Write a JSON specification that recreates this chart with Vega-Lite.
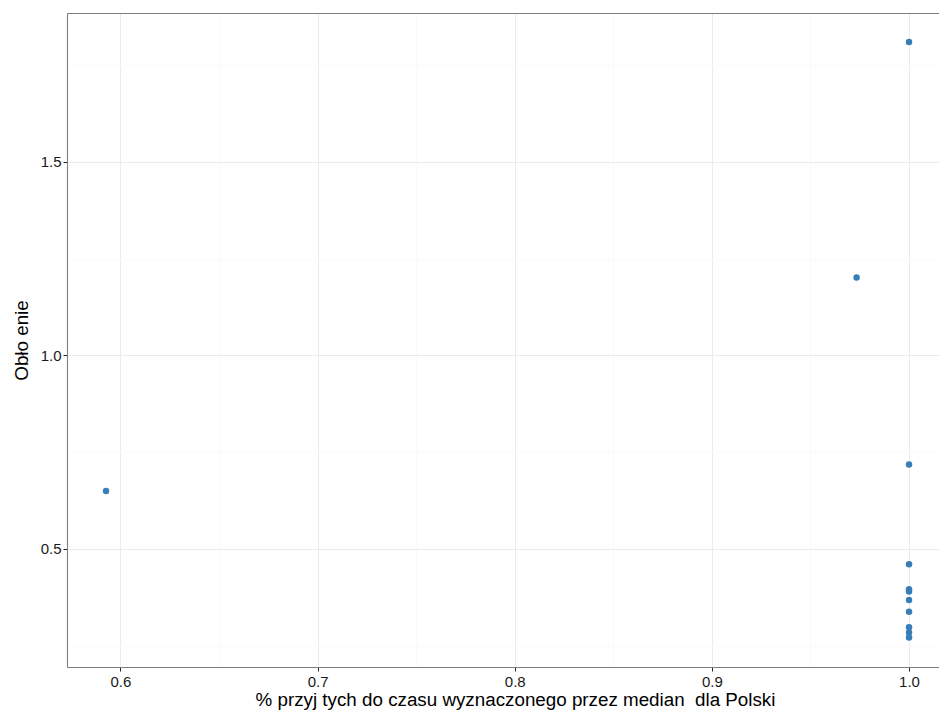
{
  "$schema": "https://vega.github.io/schema/vega-lite/v6.json",
  "width": 872,
  "height": 654,
  "autosize": {"type": "none"},
  "padding": {"left": 67, "top": 13, "right": 0, "bottom": 48},
  "background": "white",
  "config": {
    "view": {"stroke": null},
    "font": "Liberation Sans",
    "axis": {
      "labelFont": "Liberation Sans",
      "titleFont": "Liberation Sans",
      "labelFontSize": 15,
      "labelColor": "#1a1a1a",
      "titleFontSize": 18.8,
      "titleFontWeight": "normal",
      "titleColor": "#000000",
      "domainColor": "#7f7f7f",
      "domainWidth": 1.1,
      "tickColor": "#222222",
      "tickSize": 4,
      "gridWidth": 1
    }
  },
  "data": {
    "values": [
      {"x": 0.5927, "y": 0.650},
      {"x": 0.9734, "y": 1.2016},
      {"x": 1.0, "y": 1.810},
      {"x": 1.0, "y": 0.718},
      {"x": 1.0, "y": 0.4605},
      {"x": 1.0, "y": 0.396},
      {"x": 1.0, "y": 0.390},
      {"x": 1.0, "y": 0.368},
      {"x": 1.0, "y": 0.338},
      {"x": 1.0, "y": 0.298},
      {"x": 1.0, "y": 0.284},
      {"x": 1.0, "y": 0.271}
    ]
  },
  "layer": [
    {
      "mark": {"type": "point", "filled": true, "size": 42, "opacity": 1, "color": "#377eb8"},
      "encoding": {
        "x": {
          "field": "x",
          "type": "quantitative",
          "scale": {"domain": [0.5729, 1.0152], "nice": false, "zero": false},
          "axis": {
            "orient": "bottom",
            "title": "% przyj tych do czasu wyznaczonego przez median\u00a0 dla Polski",
            "values": [0.6, 0.65, 0.7, 0.75, 0.8, 0.85, 0.9, 0.95, 1.0],
            "labelExpr": "abs(datum.value*10 - round(datum.value*10)) < 0.001 ? format(datum.value, '.1f') : ''",
            "gridColor": {"condition": {"test": "abs(datum.value*10 - round(datum.value*10)) < 0.001", "value": "#ebebeb"}, "value": "#fafafa"},
            "tickOpacity": {"condition": {"test": "abs(datum.value*10 - round(datum.value*10)) < 0.001", "value": 1}, "value": 0},
            "labelPadding": 3,
            "titlePadding": 1,
            "titleX": 448
          }
        },
        "y": {
          "field": "y",
          "type": "quantitative",
          "scale": {"domain": [0.195, 1.885], "nice": false, "zero": false},
          "axis": {
            "orient": "left",
            "title": "Obło enie",
            "values": [0.25, 0.5, 0.75, 1.0, 1.25, 1.5, 1.75],
            "labelExpr": "abs(datum.value*2 - round(datum.value*2)) < 0.001 ? format(datum.value, '.1f') : ''",
            "gridColor": {"condition": {"test": "abs(datum.value*2 - round(datum.value*2)) < 0.001", "value": "#ebebeb"}, "value": "#fafafa"},
            "tickOpacity": {"condition": {"test": "abs(datum.value*2 - round(datum.value*2)) < 0.001", "value": 1}, "value": 0},
            "labelPadding": 2,
            "titlePadding": 9
          }
        }
      }
    },
    {
      "mark": {"type": "point", "opacity": 0},
      "encoding": {
        "x": {
          "field": "x",
          "type": "quantitative",
          "axis": {"orient": "top", "title": null, "labels": false, "ticks": false, "grid": false}
        },
        "y": {"field": "y", "type": "quantitative"}
      }
    }
  ],
  "resolve": {"axis": {"x": "independent"}}
}
